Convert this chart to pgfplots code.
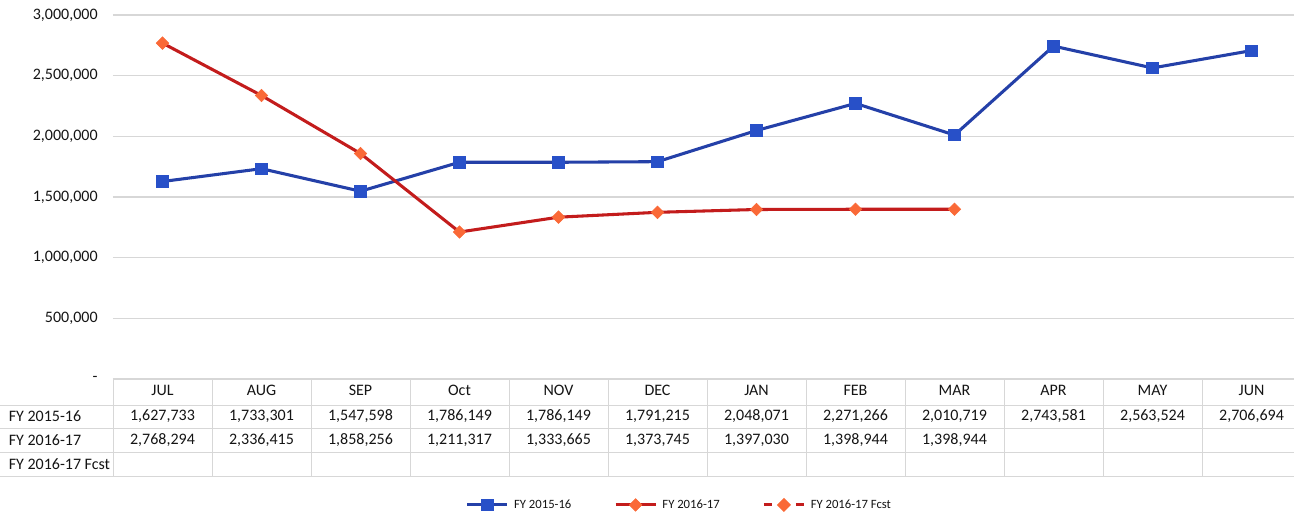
\documentclass[border=0pt]{standalone}
\usepackage{fontspec}
\setmainfont{Carlito}
\usepackage{pgfplots}
\pgfplotsset{compat=1.18}
\definecolor{blueL}{RGB}{36,64,168}
\definecolor{blueM}{RGB}{40,80,200}
\definecolor{redL}{RGB}{195,28,28}
\definecolor{orM}{RGB}{250,105,55}
\definecolor{gridc}{RGB}{215,215,215}
\definecolor{txt}{RGB}{20,20,20}
\begin{document}
\begin{tikzpicture}[x=1pt,y=1pt]
\useasboundingbox (0,0) rectangle (970.5,387.75);
\begin{axis}[
  at={(84.75pt,103.5pt)}, anchor=south west,
  scale only axis, width=891pt, height=273pt,
  xmin=-0.5, xmax=11.5, ymin=0, ymax=3000000,
  clip=false,
  axis line style={draw=none},
  major tick length=0pt,
  xtick={0,...,11},
  xticklabels={JUL,AUG,SEP,Oct,NOV,DEC,JAN,FEB,MAR,APR,MAY,JUN},
  ytick={0,500000,1000000,1500000,2000000,2500000,3000000},
  yticklabels={{-},{500,000},{1,000,000},{1,500,000},{2,000,000},{2,500,000},{3,000,000}},
  scaled y ticks=false,
  ymajorgrids,
  grid style={gridc, line width=0.9pt},
  tick label style={font=\fontsize{12}{14}\selectfont, text=txt},
  yticklabel style={xshift=-8pt},
  xticklabel style={yshift=-1pt},
  legend style={at={(0.477,-0.346)}, anchor=center, draw=none, fill=none,
    legend columns=3, font=\fontsize{9.5}{12}\selectfont, text=txt,
    /tikz/every even column/.append style={column sep=30pt},
    /tikz/every odd column/.append style={column sep=2pt}},
  legend image code/.code={\draw[mark repeat=2,mark phase=2,#1] plot coordinates {(0pt,0pt) (15pt,0pt) (30pt,0pt)};},
]
\addplot[blueL, line width=2.3pt, mark=square*, mark size=4.3pt, mark options={solid, fill=blueM, draw=blueM, line width=0.5pt}]
  coordinates {(0,1627733) (1,1733301) (2,1547598) (3,1786149) (4,1786149) (5,1791215) (6,2048071) (7,2271266) (8,2010719) (9,2743581) (10,2563524) (11,2706694)};
\addlegendentry{FY 2015-16}
\addplot[redL, line width=2.3pt, mark=square*, mark size=3.3pt, mark options={solid, rotate=45, fill=orM, draw=orM, line width=0.5pt}]
  coordinates {(0,2768294) (1,2336415) (2,1858256) (3,1211317) (4,1333665) (5,1373745) (6,1397030) (7,1398944) (8,1398944)};
\addlegendentry{FY 2016-17}
\addlegendimage{redL, line width=2.3pt, dash pattern=on 6pt off 6pt, mark=square*, mark size=2.6pt, mark options={solid, rotate=45, fill=orM, draw=orM}}
\addlegendentry{FY 2016-17 Fcst}
% data table grid
\pgfplotsinvokeforeach{-214500,-404000,-602000,-800000}{
  \draw[gridc, line width=0.7pt] (axis cs:-1.646,#1) -- (axis cs:11.5,#1);
}
\pgfplotsinvokeforeach{-0.5,0.5,1.5,2.5,3.5,4.5,5.5,6.5,7.5,8.5,9.5,10.5,11.5}{
  \draw[gridc, line width=0.7pt] (axis cs:#1,0) -- (axis cs:#1,-800000);
}
% row labels
\begin{scope}[every node/.style={font=\fontsize{12}{14}\selectfont, text=txt}]
\node[anchor=west] at (axis cs:-1.6,-305000) {FY 2015-16};
\node[anchor=west] at (axis cs:-1.6,-503000) {FY 2016-17};
\node[anchor=west] at (axis cs:-1.6,-701000) {FY 2016-17 Fcst};
% FY 2015-16 row
\node at (axis cs:0,-305000) {1,627,733};
\node at (axis cs:1,-305000) {1,733,301};
\node at (axis cs:2,-305000) {1,547,598};
\node at (axis cs:3,-305000) {1,786,149};
\node at (axis cs:4,-305000) {1,786,149};
\node at (axis cs:5,-305000) {1,791,215};
\node at (axis cs:6,-305000) {2,048,071};
\node at (axis cs:7,-305000) {2,271,266};
\node at (axis cs:8,-305000) {2,010,719};
\node at (axis cs:9,-305000) {2,743,581};
\node at (axis cs:10,-305000) {2,563,524};
\node at (axis cs:11,-305000) {2,706,694};
% FY 2016-17 row
\node at (axis cs:0,-503000) {2,768,294};
\node at (axis cs:1,-503000) {2,336,415};
\node at (axis cs:2,-503000) {1,858,256};
\node at (axis cs:3,-503000) {1,211,317};
\node at (axis cs:4,-503000) {1,333,665};
\node at (axis cs:5,-503000) {1,373,745};
\node at (axis cs:6,-503000) {1,397,030};
\node at (axis cs:7,-503000) {1,398,944};
\node at (axis cs:8,-503000) {1,398,944};
\end{scope}
\end{axis}
\end{tikzpicture}
\end{document}
